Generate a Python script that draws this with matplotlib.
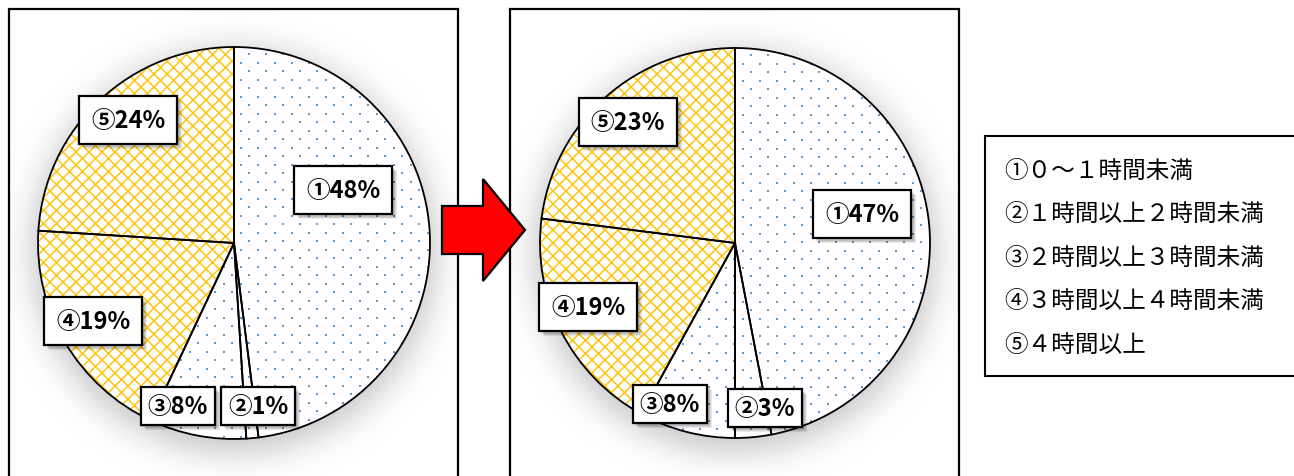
import numpy as np
import matplotlib
matplotlib.use("Agg")
import matplotlib.pyplot as plt
from matplotlib.patches import Rectangle, Polygon
from matplotlib.collections import LineCollection
import matplotlib.patheffects as pe

plt.rcParams['font.family'] = ['Noto Sans CJK JP', 'DejaVu Sans']

# share of each usage-time class, before and after
marks = ['①', '②', '③', '④', '⑤']
before = [48, 1, 8, 19, 24]
after = [47, 3, 8, 19, 23]
legend_labels = ['①０～１時間未満', '②１時間以上２時間未満', '③２時間以上３時間未満',
                 '④３時間以上４時間未満', '⑤４時間以上']
fill_kind = ['dots', 'dots', 'dots', 'lattice', 'lattice']

W, H = 1294, 477
BLUE = '#5B9BD5'
GOLD = '#FFC000'

fig = plt.figure(figsize=(W / 100, H / 100), dpi=100)
ax = fig.add_axes([0, 0, 1, 1])
ax.set_axis_off()
# pixel coordinates, y grows downwards


def dots(wedge, cx, cy, r):
    pts = []
    for i, y in enumerate(np.arange(cy - r - 10, cy + r + 10, 8.5)):
        x0 = cx - r - 10 + (8.5 if i % 2 else 0)
        for x in np.arange(x0, cx + r + 10, 17):
            pts.append((x, y))
    pts = np.array(pts)
    sc = ax.scatter(pts[:, 0], pts[:, 1], s=4.5, marker='s', c=BLUE,
                    linewidths=0, zorder=3)
    sc.set_clip_path(wedge)


def lattice(wedge, cx, cy, r):
    segs = []
    L = 1.5 * r
    for c in np.arange(-2 * r, 2 * r, 13):
        segs.append([(cx + c - L, cy - L), (cx + c + L, cy + L)])
        segs.append([(cx + c - L, cy + L), (cx + c + L, cy - L)])
    lc = LineCollection(segs, colors=GOLD, linewidths=1.05, zorder=3)
    ax.add_collection(lc)
    lc.set_clip_path(wedge)


def shadow(cx, cy, r, frame):
    x0, x1 = int(cx - r - 80), int(cx + r + 80)
    yy, xx = np.mgrid[0:H, x0:x1] + 0.5
    d = np.hypot(xx - cx, yy - (cy + 8)) - (r + 6)
    img = np.zeros(xx.shape + (4,))
    img[..., 3] = 0.22 / (1 + np.exp(d / 10))
    im = ax.imshow(img, extent=(x0, x1, H, 0), zorder=1, interpolation='bilinear')
    im.set_clip_path(frame)


def draw_panel(values, box_x, cx, cy, r, label_pos, pads):
    frame = Rectangle((box_x, 10), 449, 480, fc='white', ec='black', lw=1.6, zorder=0.5)
    ax.add_patch(frame)
    shadow(cx, cy, r, frame)
    wedges, _ = ax.pie(values, center=(cx, cy), radius=r, startangle=-90,
                       counterclock=True,
                       wedgeprops=dict(fc='white', ec='none', zorder=2))
    for w, kind in zip(wedges, fill_kind):
        if kind == 'dots':
            dots(w, cx, cy, r)
        else:
            lattice(w, cx, cy, r)
    ax.pie(values, center=(cx, cy), radius=r, startangle=-90, counterclock=True,
           wedgeprops=dict(fc='none', ec='black', lw=1.3, zorder=4))
    for m, v, (x, y), p in zip(marks, values, label_pos, pads):
        t = ax.text(x, y, f'{m}{v}%', ha='center', va='center', fontsize=17,
                    fontweight='bold', zorder=6,
                    bbox=dict(boxstyle=f'square,pad={p}', fc='white', ec='black', lw=1.6))
        t.get_bbox_patch().set_path_effects(
            [pe.SimplePatchShadow(offset=(o, -o), shadow_rgbFace='black', alpha=0.09)
             for o in (1.2, 2.0, 2.8, 3.6)] + [pe.Normal()])


draw_panel(before, 9, 234, 244, 196,
           [(343, 191), (258, 407), (178, 407), (93, 322), (128, 121)],
           [0.5, 0.3, 0.3, 0.5, 0.5])
draw_panel(after, 510, 735, 244, 195,
           [(862, 215), (765, 409), (670, 405), (588, 308), (628, 123)],
           [0.5, 0.3, 0.3, 0.5, 0.5])

# arrow between the two panels
arrow = Polygon([(442, 207), (483, 207), (483, 180), (525, 231), (483, 282),
                 (483, 255), (442, 255)], closed=True, fc='#FF0000', ec='black',
                lw=1.6, zorder=7)
ax.add_patch(arrow)

# legend box
ax.add_patch(Rectangle((985, 137), 330, 240, fc='white', ec='black', lw=1.5, zorder=5))
for i, s in enumerate(legend_labels):
    ax.text(1004, 171 + i * 43.5, s, ha='left', va='center', fontsize=17, zorder=6)

ax.set_xlim(0, W)
ax.set_ylim(H, 0)
ax.set_aspect('equal')
fig.savefig('out.png', dpi=100)
